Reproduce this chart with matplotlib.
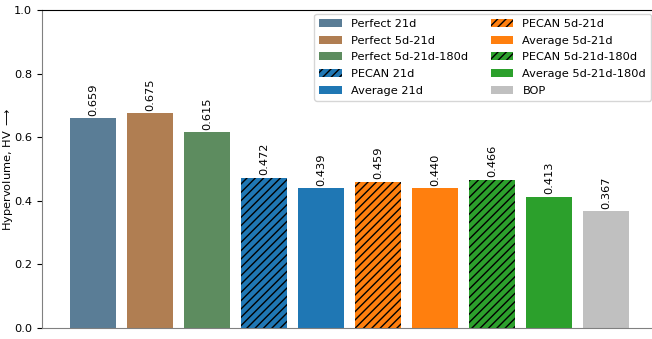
import matplotlib.pyplot as plt
import numpy as np

labels = ['Perfect 21d', 'Perfect 5d-21d', 'Perfect 5d-21d-180d', 'PECAN 21d', 'Average 21d',
          'PECAN 5d-21d', 'Average 5d-21d', 'PECAN 5d-21d-180d', 'Average 5d-21d-180d', 'BOP']
values = [0.659, 0.675, 0.615, 0.472, 0.439, 0.459, 0.440, 0.466, 0.413, 0.367]
colors = ['#5a7d96', '#b07e52', '#5d8c5f', '#1f77b4', '#1f77b4',
          '#ff7f0e', '#ff7f0e', '#2ca02c', '#2ca02c', '#c0c0c0']
hatches = ['', '', '', '////', '', '////', '', '////', '', '']

plt.rcParams['hatch.linewidth'] = 1.0
fig = plt.figure(figsize=(6.52, 3.39), dpi=100)
ax = fig.add_axes([42 / 652, 11 / 339, 1 - 42 / 652, 318 / 339])

x = np.arange(len(values))
for i in range(len(values)):
    ax.bar(x[i], values[i], width=0.8, color=colors[i], hatch=hatches[i],
           edgecolor='black' if hatches[i] else colors[i], linewidth=0,
           label=labels[i])
    ax.text(x[i], values[i] + 0.008, '%.3f' % values[i], rotation=90,
            ha='center', va='bottom', fontsize=8.2)

ax.set_xlim(-0.895, 9.81)
ax.set_ylim(0, 1.0)
ax.set_xticks([])
ax.set_ylabel(r'Hypervolume, HV $\longrightarrow$', fontsize=8.2)
ax.yaxis.set_label_coords(-0.045, 0.5)
ax.tick_params(axis='y', labelsize=8.2)
ax.spines['right'].set_visible(False)
ax.spines['left'].set_color('#808080')
ax.spines['bottom'].set_color('#808080')

ax.legend(ncol=2, loc='upper right', fontsize=8.2, bbox_to_anchor=(0.998, 0.987),
          borderaxespad=0, handlelength=2.0, handletextpad=0.8,
          columnspacing=2.0, labelspacing=0.6)

fig.savefig('out.png', dpi=100)
